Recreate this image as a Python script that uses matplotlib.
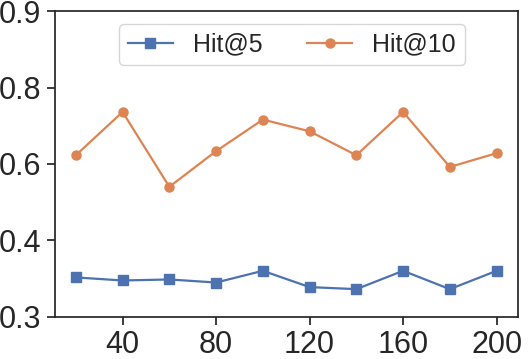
import matplotlib
matplotlib.use("Agg")
import matplotlib.pyplot as plt

x = [20, 40, 60, 80, 100, 120, 140, 160, 180, 200]
hit5 = [0.377, 0.371, 0.373, 0.367, 0.390, 0.358, 0.354, 0.390, 0.354, 0.390]
hit10 = [0.617, 0.702, 0.555, 0.625, 0.687, 0.664, 0.617, 0.702, 0.594, 0.621]
ytick_pos = [0.3, 0.45, 0.6, 0.75, 0.9]
ytick_labels = ["0.3", "0.4", "0.6", "0.8", "0.9"]
xtick_pos = [40, 80, 120, 160, 200]

plt.rcParams['font.family'] = ['Liberation Sans', 'DejaVu Sans']
dark = '#262626'

fig = plt.figure(figsize=(5.32, 3.59), dpi=100)
ax = fig.add_axes([0.103, 0.118, 0.870, 0.851])
ax.plot(x, hit5, color='#4C72B0', marker='s', markersize=6.5, linewidth=1.6, label='Hit@5')
ax.plot(x, hit10, color='#DD8452', marker='o', markersize=6.5, linewidth=1.6, label='Hit@10')

ax.set_ylim(0.3, 0.9)
ax.set_yticks(ytick_pos)
ax.set_yticklabels(ytick_labels)
ax.set_xticks(xtick_pos)
ax.tick_params(axis='both', labelsize=22, colors=dark, length=6, width=1.25, direction='out')
for s in ax.spines.values():
    s.set_color(dark)
    s.set_linewidth(1.25)

leg = ax.legend(loc='upper center', ncol=2, fontsize=18, frameon=True,
                bbox_to_anchor=(0.512, 1.0), columnspacing=1.8, handlelength=1.8,
                handletextpad=0.8, borderpad=0.35)
leg.get_frame().set_edgecolor('#cccccc')
for t in leg.get_texts():
    t.set_color(dark)

fig.savefig('out.png', dpi=100)
